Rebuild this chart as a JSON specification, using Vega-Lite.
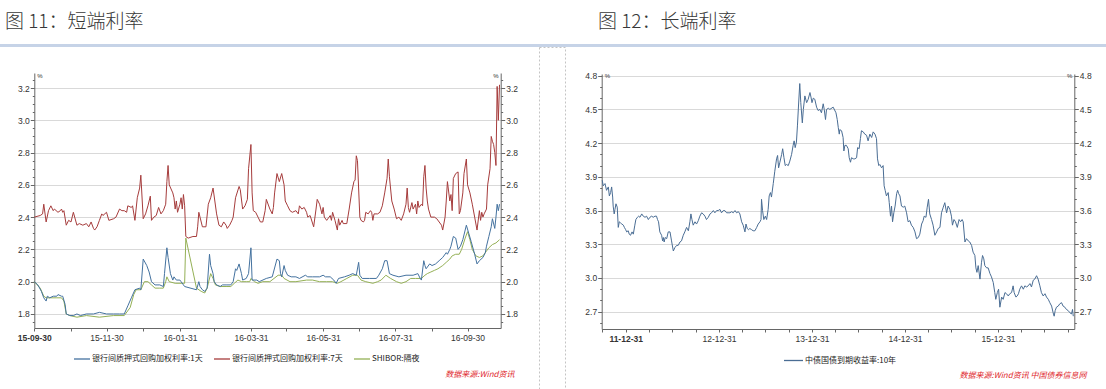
{
  "$schema": "https://vega.github.io/schema/vega-lite/v6.json",
  "padding": {"left": 0, "top": 12, "right": 0, "bottom": 0},
  "background": "white",
  "config": {"view": {"stroke": null}, "font": "Liberation Sans"},
  "datasets": {
    "r7": [
      {"d":"2015-09-30","v":2.40},{"d":"2015-10-05","v":2.41},{"d":"2015-10-07","v":2.42},{"d":"2015-10-08","v":2.48},{"d":"2015-10-10","v":2.37},{"d":"2015-10-12","v":2.44},{"d":"2015-10-14","v":2.47},{"d":"2015-10-16","v":2.44},{"d":"2015-10-17","v":2.45},{"d":"2015-10-20","v":2.43},{"d":"2015-10-22","v":2.44},{"d":"2015-10-23","v":2.45},{"d":"2015-10-24","v":2.43},{"d":"2015-10-25","v":2.44},{"d":"2015-10-27","v":2.35},{"d":"2015-10-29","v":2.38},{"d":"2015-10-31","v":2.37},
      {"d":"2015-11-02","v":2.43},{"d":"2015-11-05","v":2.35},{"d":"2015-11-07","v":2.36},{"d":"2015-11-10","v":2.35},{"d":"2015-11-13","v":2.36},{"d":"2015-11-15","v":2.34},{"d":"2015-11-17","v":2.37},{"d":"2015-11-19","v":2.33},{"d":"2015-11-20","v":2.32},{"d":"2015-11-22","v":2.34},{"d":"2015-11-24","v":2.38},{"d":"2015-11-26","v":2.42},{"d":"2015-11-27","v":2.41},{"d":"2015-11-30","v":2.43},
      {"d":"2015-12-02","v":2.38},{"d":"2015-12-06","v":2.39},{"d":"2015-12-08","v":2.40},{"d":"2015-12-11","v":2.45},{"d":"2015-12-13","v":2.44},{"d":"2015-12-15","v":2.44},{"d":"2015-12-17","v":2.43},{"d":"2015-12-18","v":2.47},{"d":"2015-12-21","v":2.46},{"d":"2015-12-22","v":2.47},{"d":"2015-12-24","v":2.38},{"d":"2015-12-25","v":2.45},{"d":"2015-12-26","v":2.52},{"d":"2015-12-28","v":2.58},{"d":"2015-12-29","v":2.66},{"d":"2015-12-31","v":2.39},
      {"d":"2016-01-02","v":2.42},{"d":"2016-01-04","v":2.47},{"d":"2016-01-06","v":2.53},{"d":"2016-01-07","v":2.38},{"d":"2016-01-09","v":2.40},{"d":"2016-01-11","v":2.41},{"d":"2016-01-13","v":2.46},{"d":"2016-01-15","v":2.42},{"d":"2016-01-17","v":2.44},{"d":"2016-01-19","v":2.48},{"d":"2016-01-20","v":2.62},{"d":"2016-01-21","v":2.72},{"d":"2016-01-22","v":2.60},{"d":"2016-01-25","v":2.55},{"d":"2016-01-26","v":2.52},{"d":"2016-01-27","v":2.45},{"d":"2016-01-28","v":2.50},{"d":"2016-01-29","v":2.43},{"d":"2016-01-31","v":2.48},
      {"d":"2016-02-01","v":2.52},{"d":"2016-02-02","v":2.45},{"d":"2016-02-03","v":2.54},{"d":"2016-02-04","v":2.47},{"d":"2016-02-05","v":2.28},{"d":"2016-02-07","v":2.27},{"d":"2016-02-11","v":2.28},{"d":"2016-02-14","v":2.28},{"d":"2016-02-15","v":2.34},{"d":"2016-02-16","v":2.43},{"d":"2016-02-17","v":2.40},{"d":"2016-02-19","v":2.34},{"d":"2016-02-22","v":2.34},{"d":"2016-02-24","v":2.48},{"d":"2016-02-26","v":2.52},{"d":"2016-02-28","v":2.58},
      {"d":"2016-03-02","v":2.42},{"d":"2016-03-04","v":2.35},{"d":"2016-03-06","v":2.34},{"d":"2016-03-08","v":2.37},{"d":"2016-03-10","v":2.35},{"d":"2016-03-11","v":2.33},{"d":"2016-03-13","v":2.35},{"d":"2016-03-15","v":2.38},{"d":"2016-03-16","v":2.40},{"d":"2016-03-18","v":2.52},{"d":"2016-03-21","v":2.59},{"d":"2016-03-22","v":2.57},{"d":"2016-03-24","v":2.45},{"d":"2016-03-26","v":2.47},{"d":"2016-03-28","v":2.51},{"d":"2016-03-29","v":2.70},{"d":"2016-03-31","v":2.85},
      {"d":"2016-04-01","v":2.55},{"d":"2016-04-02","v":2.44},{"d":"2016-04-04","v":2.43},{"d":"2016-04-06","v":2.40},{"d":"2016-04-08","v":2.37},{"d":"2016-04-10","v":2.37},{"d":"2016-04-12","v":2.44},{"d":"2016-04-13","v":2.51},{"d":"2016-04-16","v":2.45},{"d":"2016-04-18","v":2.42},{"d":"2016-04-19","v":2.46},{"d":"2016-04-20","v":2.55},{"d":"2016-04-22","v":2.67},{"d":"2016-04-24","v":2.62},{"d":"2016-04-26","v":2.67},{"d":"2016-04-28","v":2.60},{"d":"2016-04-29","v":2.50},
      {"d":"2016-05-01","v":2.47},{"d":"2016-05-03","v":2.44},{"d":"2016-05-05","v":2.43},{"d":"2016-05-08","v":2.44},{"d":"2016-05-10","v":2.42},{"d":"2016-05-11","v":2.47},{"d":"2016-05-13","v":2.45},{"d":"2016-05-15","v":2.46},{"d":"2016-05-17","v":2.43},{"d":"2016-05-18","v":2.40},{"d":"2016-05-20","v":2.41},{"d":"2016-05-23","v":2.34},{"d":"2016-05-25","v":2.45},{"d":"2016-05-26","v":2.51},{"d":"2016-05-28","v":2.48},{"d":"2016-05-29","v":2.45},{"d":"2016-05-30","v":2.42},{"d":"2016-05-31","v":2.46},
      {"d":"2016-06-01","v":2.40},{"d":"2016-06-03","v":2.38},{"d":"2016-06-05","v":2.40},{"d":"2016-06-06","v":2.41},{"d":"2016-06-07","v":2.38},{"d":"2016-06-08","v":2.43},{"d":"2016-06-10","v":2.38},{"d":"2016-06-12","v":2.32},{"d":"2016-06-13","v":2.39},{"d":"2016-06-14","v":2.35},{"d":"2016-06-16","v":2.38},{"d":"2016-06-17","v":2.36},{"d":"2016-06-20","v":2.36},{"d":"2016-06-22","v":2.45},{"d":"2016-06-24","v":2.55},{"d":"2016-06-26","v":2.62},{"d":"2016-06-27","v":2.63},{"d":"2016-06-28","v":2.78},{"d":"2016-06-29","v":2.75},
      {"d":"2016-07-01","v":2.40},{"d":"2016-07-02","v":2.38},{"d":"2016-07-04","v":2.37},{"d":"2016-07-05","v":2.38},{"d":"2016-07-06","v":2.43},{"d":"2016-07-08","v":2.42},{"d":"2016-07-10","v":2.44},{"d":"2016-07-11","v":2.43},{"d":"2016-07-12","v":2.38},{"d":"2016-07-13","v":2.42},{"d":"2016-07-16","v":2.42},{"d":"2016-07-18","v":2.43},{"d":"2016-07-20","v":2.47},{"d":"2016-07-22","v":2.55},{"d":"2016-07-24","v":2.64},{"d":"2016-07-25","v":2.76},{"d":"2016-07-26","v":2.65},{"d":"2016-07-28","v":2.50},{"d":"2016-07-30","v":2.45},
      {"d":"2016-08-01","v":2.39},{"d":"2016-08-03","v":2.40},{"d":"2016-08-05","v":2.38},{"d":"2016-08-07","v":2.42},{"d":"2016-08-09","v":2.48},{"d":"2016-08-10","v":2.58},{"d":"2016-08-11","v":2.46},{"d":"2016-08-12","v":2.43},{"d":"2016-08-14","v":2.49},{"d":"2016-08-15","v":2.45},{"d":"2016-08-17","v":2.48},{"d":"2016-08-18","v":2.42},{"d":"2016-08-19","v":2.50},{"d":"2016-08-20","v":2.46},{"d":"2016-08-22","v":2.48},{"d":"2016-08-23","v":2.47},{"d":"2016-08-24","v":2.65},{"d":"2016-08-25","v":2.72},{"d":"2016-08-26","v":2.58},{"d":"2016-08-27","v":2.50},{"d":"2016-08-28","v":2.45},{"d":"2016-08-30","v":2.40},
      {"d":"2016-09-02","v":2.40},{"d":"2016-09-04","v":2.39},{"d":"2016-09-08","v":2.35},{"d":"2016-09-09","v":2.32},{"d":"2016-09-11","v":2.40},{"d":"2016-09-12","v":2.50},{"d":"2016-09-13","v":2.62},{"d":"2016-09-15","v":2.50},{"d":"2016-09-16","v":2.54},{"d":"2016-09-17","v":2.44},{"d":"2016-09-18","v":2.64},{"d":"2016-09-20","v":2.67},{"d":"2016-09-22","v":2.68},{"d":"2016-09-23","v":2.42},{"d":"2016-09-24","v":2.44},{"d":"2016-09-26","v":2.55},{"d":"2016-09-27","v":2.67},{"d":"2016-09-29","v":2.76},{"d":"2016-09-30","v":2.60},
      {"d":"2016-10-02","v":2.55},{"d":"2016-10-04","v":2.48},{"d":"2016-10-06","v":2.40},{"d":"2016-10-08","v":2.32},{"d":"2016-10-10","v":2.44},{"d":"2016-10-11","v":2.38},{"d":"2016-10-12","v":2.43},{"d":"2016-10-13","v":2.40},{"d":"2016-10-14","v":2.42},{"d":"2016-10-16","v":2.45},{"d":"2016-10-17","v":2.60},{"d":"2016-10-19","v":2.70},{"d":"2016-10-20","v":2.90},{"d":"2016-10-21","v":2.87},{"d":"2016-10-22","v":2.85},{"d":"2016-10-23","v":2.80},{"d":"2016-10-24","v":2.72},{"d":"2016-10-25","v":3.21},{"d":"2016-10-26","v":3.00},{"d":"2016-10-27","v":3.22}
    ],
    "r1": [
      {"d":"2015-09-30","v":2.00},{"d":"2015-10-03","v":1.98},{"d":"2015-10-06","v":1.94},{"d":"2015-10-08","v":1.90},{"d":"2015-10-10","v":1.88},{"d":"2015-10-11","v":1.91},{"d":"2015-10-13","v":1.90},{"d":"2015-10-16","v":1.91},{"d":"2015-10-19","v":1.91},{"d":"2015-10-20","v":1.92},{"d":"2015-10-23","v":1.91},{"d":"2015-10-24","v":1.91},{"d":"2015-10-26","v":1.86},{"d":"2015-10-27","v":1.80},{"d":"2015-10-30","v":1.79},
      {"d":"2015-11-02","v":1.79},{"d":"2015-11-05","v":1.80},{"d":"2015-11-08","v":1.79},{"d":"2015-11-13","v":1.80},{"d":"2015-11-19","v":1.80},{"d":"2015-11-24","v":1.81},{"d":"2015-11-30","v":1.80},{"d":"2015-12-06","v":1.80},{"d":"2015-12-11","v":1.80},{"d":"2015-12-15","v":1.80},{"d":"2015-12-18","v":1.85},{"d":"2015-12-21","v":1.90},{"d":"2015-12-24","v":1.95},{"d":"2015-12-28","v":1.96},{"d":"2015-12-29","v":1.95},{"d":"2015-12-31","v":2.14},
      {"d":"2016-01-03","v":2.10},{"d":"2016-01-05","v":2.06},{"d":"2016-01-07","v":2.00},{"d":"2016-01-10","v":1.98},{"d":"2016-01-14","v":1.98},{"d":"2016-01-17","v":1.97},{"d":"2016-01-18","v":2.05},{"d":"2016-01-20","v":2.21},{"d":"2016-01-21","v":2.15},{"d":"2016-01-23","v":2.05},{"d":"2016-01-25","v":2.01},{"d":"2016-01-26","v":2.03},{"d":"2016-01-28","v":2.01},{"d":"2016-01-31","v":2.01},
      {"d":"2016-02-01","v":2.00},{"d":"2016-02-03","v":1.98},{"d":"2016-02-04","v":1.97},{"d":"2016-02-14","v":1.95},{"d":"2016-02-16","v":2.00},{"d":"2016-02-17","v":1.97},{"d":"2016-02-19","v":1.95},{"d":"2016-02-21","v":1.94},{"d":"2016-02-23","v":1.96},{"d":"2016-02-25","v":2.17},{"d":"2016-02-26","v":2.10},{"d":"2016-02-28","v":2.05},{"d":"2016-02-29","v":2.00},
      {"d":"2016-03-02","v":1.98},{"d":"2016-03-05","v":1.97},{"d":"2016-03-07","v":1.98},{"d":"2016-03-10","v":1.98},{"d":"2016-03-14","v":1.98},{"d":"2016-03-16","v":2.00},{"d":"2016-03-18","v":2.08},{"d":"2016-03-19","v":2.07},{"d":"2016-03-21","v":2.11},{"d":"2016-03-23","v":2.05},{"d":"2016-03-24","v":2.01},{"d":"2016-03-27","v":2.02},{"d":"2016-03-29","v":2.05},{"d":"2016-03-31","v":2.21},
      {"d":"2016-04-01","v":2.01},{"d":"2016-04-05","v":2.01},{"d":"2016-04-07","v":2.00},{"d":"2016-04-13","v":2.02},{"d":"2016-04-18","v":2.03},{"d":"2016-04-22","v":2.14},{"d":"2016-04-24","v":2.13},{"d":"2016-04-25","v":2.05},{"d":"2016-04-26","v":2.03},{"d":"2016-04-28","v":2.10},{"d":"2016-04-29","v":2.07},
      {"d":"2016-05-01","v":2.04},{"d":"2016-05-04","v":2.03},{"d":"2016-05-08","v":2.03},{"d":"2016-05-11","v":2.02},{"d":"2016-05-16","v":2.04},{"d":"2016-05-18","v":2.03},{"d":"2016-05-22","v":2.03},{"d":"2016-05-28","v":2.03},{"d":"2016-05-31","v":2.04},
      {"d":"2016-06-02","v":2.03},{"d":"2016-06-06","v":2.03},{"d":"2016-06-09","v":2.01},{"d":"2016-06-11","v":1.99},{"d":"2016-06-13","v":2.02},{"d":"2016-06-18","v":2.03},{"d":"2016-06-22","v":2.04},{"d":"2016-06-25","v":2.05},{"d":"2016-06-28","v":2.04},{"d":"2016-06-30","v":2.12},
      {"d":"2016-07-01","v":2.04},{"d":"2016-07-03","v":2.02},{"d":"2016-07-09","v":2.02},{"d":"2016-07-15","v":2.02},{"d":"2016-07-17","v":2.04},{"d":"2016-07-20","v":2.08},{"d":"2016-07-22","v":2.13},{"d":"2016-07-24","v":2.13},{"d":"2016-07-26","v":2.05},{"d":"2016-07-29","v":2.04},
      {"d":"2016-08-03","v":2.03},{"d":"2016-08-09","v":2.04},{"d":"2016-08-15","v":2.04},{"d":"2016-08-19","v":2.05},{"d":"2016-08-21","v":2.02},{"d":"2016-08-22","v":2.01},{"d":"2016-08-24","v":2.13},{"d":"2016-08-25","v":2.10},{"d":"2016-08-26","v":2.08},{"d":"2016-08-29","v":2.11},{"d":"2016-08-31","v":2.10},
      {"d":"2016-09-03","v":2.11},{"d":"2016-09-06","v":2.13},{"d":"2016-09-09","v":2.15},{"d":"2016-09-12","v":2.18},{"d":"2016-09-13","v":2.17},{"d":"2016-09-15","v":2.20},{"d":"2016-09-16","v":2.22},{"d":"2016-09-18","v":2.28},{"d":"2016-09-20","v":2.27},{"d":"2016-09-22","v":2.20},{"d":"2016-09-24","v":2.22},{"d":"2016-09-26","v":2.26},{"d":"2016-09-28","v":2.32},{"d":"2016-09-29","v":2.35},
      {"d":"2016-10-01","v":2.30},{"d":"2016-10-03","v":2.25},{"d":"2016-10-06","v":2.17},{"d":"2016-10-08","v":2.11},{"d":"2016-10-10","v":2.13},{"d":"2016-10-13","v":2.15},{"d":"2016-10-15","v":2.18},{"d":"2016-10-16","v":2.22},{"d":"2016-10-18","v":2.28},{"d":"2016-10-20","v":2.34},{"d":"2016-10-21","v":2.39},{"d":"2016-10-23","v":2.33},{"d":"2016-10-24","v":2.40},{"d":"2016-10-25","v":2.48},{"d":"2016-10-26","v":2.44},{"d":"2016-10-27","v":2.48}
    ],
    "sh": [
      {"d":"2015-09-30","v":2.00},{"d":"2015-10-05","v":1.96},{"d":"2015-10-08","v":1.91},{"d":"2015-10-10","v":1.90},{"d":"2015-10-19","v":1.90},{"d":"2015-10-23","v":1.90},{"d":"2015-10-25","v":1.88},{"d":"2015-10-27","v":1.80},{"d":"2015-10-30","v":1.79},
      {"d":"2015-11-05","v":1.78},{"d":"2015-11-13","v":1.79},{"d":"2015-11-24","v":1.78},{"d":"2015-12-06","v":1.79},{"d":"2015-12-15","v":1.79},{"d":"2015-12-20","v":1.84},{"d":"2015-12-23","v":1.92},{"d":"2015-12-25","v":1.95},{"d":"2015-12-29","v":1.95},
      {"d":"2016-01-01","v":2.00},{"d":"2016-01-04","v":2.00},{"d":"2016-01-07","v":1.98},{"d":"2016-01-10","v":1.96},{"d":"2016-01-14","v":1.96},{"d":"2016-01-17","v":1.96},{"d":"2016-01-19","v":2.00},{"d":"2016-01-20","v":2.03},{"d":"2016-01-22","v":2.00},{"d":"2016-01-27","v":1.99},
      {"d":"2016-02-01","v":1.99},{"d":"2016-02-04","v":1.99},{"d":"2016-02-05","v":2.27},{"d":"2016-02-14","v":1.96},{"d":"2016-02-18","v":1.94},{"d":"2016-02-21","v":1.93},{"d":"2016-02-23","v":1.96},{"d":"2016-02-26","v":2.05},{"d":"2016-02-28","v":2.02},
      {"d":"2016-03-01","v":1.98},{"d":"2016-03-05","v":1.97},{"d":"2016-03-10","v":1.97},{"d":"2016-03-14","v":1.97},{"d":"2016-03-17","v":1.99},{"d":"2016-03-20","v":2.01},{"d":"2016-03-23","v":2.00},{"d":"2016-03-27","v":2.00},{"d":"2016-03-30","v":2.00},{"d":"2016-03-31","v":2.02},
      {"d":"2016-04-03","v":2.00},{"d":"2016-04-06","v":1.99},{"d":"2016-04-10","v":2.00},{"d":"2016-04-16","v":2.00},{"d":"2016-04-23","v":2.04},{"d":"2016-04-26","v":2.04},{"d":"2016-04-28","v":2.02},
      {"d":"2016-05-03","v":2.00},{"d":"2016-05-08","v":2.00},{"d":"2016-05-17","v":2.01},{"d":"2016-05-22","v":2.01},{"d":"2016-05-28","v":2.00},{"d":"2016-06-03","v":2.00},{"d":"2016-06-08","v":2.00},{"d":"2016-06-12","v":1.99},{"d":"2016-06-15","v":2.00},{"d":"2016-06-20","v":2.02},{"d":"2016-06-25","v":2.04},{"d":"2016-06-29","v":2.04},
      {"d":"2016-07-02","v":2.01},{"d":"2016-07-06","v":2.00},{"d":"2016-07-12","v":1.99},{"d":"2016-07-16","v":2.00},{"d":"2016-07-19","v":2.01},{"d":"2016-07-23","v":2.04},{"d":"2016-07-27","v":2.02},
      {"d":"2016-08-01","v":2.00},{"d":"2016-08-05","v":1.99},{"d":"2016-08-09","v":2.00},{"d":"2016-08-13","v":2.02},{"d":"2016-08-17","v":2.02},{"d":"2016-08-22","v":2.02},{"d":"2016-08-25","v":2.04},{"d":"2016-08-27","v":2.05},{"d":"2016-08-30","v":2.06},
      {"d":"2016-09-02","v":2.07},{"d":"2016-09-05","v":2.08},{"d":"2016-09-09","v":2.10},{"d":"2016-09-12","v":2.12},{"d":"2016-09-15","v":2.14},{"d":"2016-09-17","v":2.16},{"d":"2016-09-20","v":2.17},{"d":"2016-09-23","v":2.17},{"d":"2016-09-25","v":2.20},{"d":"2016-09-28","v":2.27},{"d":"2016-09-30","v":2.31},
      {"d":"2016-10-02","v":2.26},{"d":"2016-10-04","v":2.20},{"d":"2016-10-07","v":2.16},{"d":"2016-10-10","v":2.15},{"d":"2016-10-13","v":2.16},{"d":"2016-10-16","v":2.19},{"d":"2016-10-18","v":2.21},{"d":"2016-10-21","v":2.23},{"d":"2016-10-24","v":2.24},{"d":"2016-10-27","v":2.26}
    ],
    "cgb": [
      {"d":"2011-09-30","v":3.87},{"d":"2011-10-04","v":3.82},{"d":"2011-10-11","v":3.84},{"d":"2011-10-17","v":3.78},{"d":"2011-10-24","v":3.81},{"d":"2011-10-28","v":3.73},{"d":"2011-11-02","v":3.76},{"d":"2011-11-06","v":3.81},{"d":"2011-11-10","v":3.72},{"d":"2011-11-12","v":3.64},{"d":"2011-11-16","v":3.57},{"d":"2011-11-19","v":3.61},{"d":"2011-11-23","v":3.66},{"d":"2011-11-28","v":3.63},{"d":"2011-12-02","v":3.45},{"d":"2011-12-06","v":3.50},{"d":"2011-12-11","v":3.49},{"d":"2011-12-16","v":3.48},{"d":"2011-12-22","v":3.47},{"d":"2011-12-26","v":3.45},{"d":"2011-12-31","v":3.43},
      {"d":"2012-01-04","v":3.41},{"d":"2012-01-10","v":3.42},{"d":"2012-01-14","v":3.39},{"d":"2012-01-19","v":3.38},{"d":"2012-01-25","v":3.41},{"d":"2012-01-30","v":3.39},{"d":"2012-02-05","v":3.47},{"d":"2012-02-09","v":3.52},{"d":"2012-02-15","v":3.54},{"d":"2012-02-20","v":3.55},{"d":"2012-02-25","v":3.54},{"d":"2012-03-03","v":3.57},{"d":"2012-03-09","v":3.55},{"d":"2012-03-16","v":3.54},{"d":"2012-03-22","v":3.55},{"d":"2012-03-29","v":3.52},{"d":"2012-04-04","v":3.54},{"d":"2012-04-11","v":3.55},{"d":"2012-04-17","v":3.54},{"d":"2012-04-24","v":3.55},{"d":"2012-04-30","v":3.55},{"d":"2012-05-04","v":3.52},{"d":"2012-05-08","v":3.50},{"d":"2012-05-13","v":3.41},{"d":"2012-05-20","v":3.38},{"d":"2012-05-24","v":3.33},{"d":"2012-05-27","v":3.36},{"d":"2012-05-30","v":3.32},{"d":"2012-06-03","v":3.36},{"d":"2012-06-09","v":3.35},{"d":"2012-06-15","v":3.41},{"d":"2012-06-22","v":3.41},{"d":"2012-06-28","v":3.33},{"d":"2012-07-05","v":3.24},{"d":"2012-07-11","v":3.27},{"d":"2012-07-18","v":3.29},{"d":"2012-07-24","v":3.29},{"d":"2012-07-31","v":3.32},{"d":"2012-08-06","v":3.33},{"d":"2012-08-13","v":3.38},{"d":"2012-08-19","v":3.41},{"d":"2012-08-26","v":3.45},{"d":"2012-09-02","v":3.42},{"d":"2012-09-08","v":3.50},{"d":"2012-09-12","v":3.57},{"d":"2012-09-16","v":3.52},{"d":"2012-09-21","v":3.47},{"d":"2012-09-28","v":3.50},{"d":"2012-10-04","v":3.48},{"d":"2012-10-11","v":3.51},{"d":"2012-10-17","v":3.55},{"d":"2012-10-24","v":3.58},{"d":"2012-10-30","v":3.57},{"d":"2012-11-06","v":3.55},{"d":"2012-11-12","v":3.52},{"d":"2012-11-19","v":3.54},{"d":"2012-11-26","v":3.57},{"d":"2012-12-02","v":3.58},{"d":"2012-12-09","v":3.60},{"d":"2012-12-15","v":3.58},{"d":"2012-12-22","v":3.60},{"d":"2012-12-28","v":3.60},
      {"d":"2013-01-04","v":3.61},{"d":"2013-01-10","v":3.58},{"d":"2013-01-17","v":3.60},{"d":"2013-01-23","v":3.60},{"d":"2013-01-30","v":3.58},{"d":"2013-02-05","v":3.58},{"d":"2013-02-12","v":3.58},{"d":"2013-02-19","v":3.59},{"d":"2013-02-25","v":3.58},{"d":"2013-03-04","v":3.60},{"d":"2013-03-10","v":3.58},{"d":"2013-03-17","v":3.59},{"d":"2013-03-23","v":3.57},{"d":"2013-03-30","v":3.50},{"d":"2013-04-05","v":3.47},{"d":"2013-04-12","v":3.41},{"d":"2013-04-16","v":3.48},{"d":"2013-04-21","v":3.44},{"d":"2013-04-26","v":3.43},{"d":"2013-05-01","v":3.44},{"d":"2013-05-08","v":3.43},{"d":"2013-05-14","v":3.42},{"d":"2013-05-21","v":3.42},{"d":"2013-05-28","v":3.45},{"d":"2013-06-03","v":3.48},{"d":"2013-06-10","v":3.50},{"d":"2013-06-14","v":3.52},{"d":"2013-06-16","v":3.70},{"d":"2013-06-20","v":3.60},{"d":"2013-06-25","v":3.52},{"d":"2013-07-01","v":3.55},{"d":"2013-07-06","v":3.52},{"d":"2013-07-12","v":3.61},{"d":"2013-07-16","v":3.73},{"d":"2013-07-21","v":3.76},{"d":"2013-07-25","v":3.72},{"d":"2013-08-01","v":3.84},{"d":"2013-08-07","v":3.95},{"d":"2013-08-14","v":4.06},{"d":"2013-08-18","v":4.09},{"d":"2013-08-22","v":3.98},{"d":"2013-08-27","v":4.03},{"d":"2013-09-03","v":4.10},{"d":"2013-09-07","v":4.15},{"d":"2013-09-12","v":4.07},{"d":"2013-09-17","v":4.00},{"d":"2013-09-22","v":4.01},{"d":"2013-09-29","v":4.00},{"d":"2013-10-05","v":4.04},{"d":"2013-10-12","v":4.10},{"d":"2013-10-18","v":4.18},{"d":"2013-10-22","v":4.22},{"d":"2013-10-26","v":4.16},{"d":"2013-10-31","v":4.21},{"d":"2013-11-04","v":4.36},{"d":"2013-11-08","v":4.53},{"d":"2013-11-13","v":4.73},{"d":"2013-11-17","v":4.56},{"d":"2013-11-23","v":4.38},{"d":"2013-11-27","v":4.50},{"d":"2013-12-03","v":4.62},{"d":"2013-12-10","v":4.56},{"d":"2013-12-16","v":4.59},{"d":"2013-12-23","v":4.65},{"d":"2013-12-27","v":4.61},{"d":"2013-12-31","v":4.56},
      {"d":"2014-01-05","v":4.60},{"d":"2014-01-11","v":4.59},{"d":"2014-01-18","v":4.52},{"d":"2014-01-24","v":4.49},{"d":"2014-01-31","v":4.50},{"d":"2014-02-06","v":4.47},{"d":"2014-02-13","v":4.55},{"d":"2014-02-17","v":4.50},{"d":"2014-02-22","v":4.41},{"d":"2014-02-26","v":4.50},{"d":"2014-03-05","v":4.51},{"d":"2014-03-11","v":4.50},{"d":"2014-03-24","v":4.52},{"d":"2014-04-04","v":4.47},{"d":"2014-04-09","v":4.41},{"d":"2014-04-13","v":4.34},{"d":"2014-04-17","v":4.28},{"d":"2014-04-19","v":4.32},{"d":"2014-04-26","v":4.31},{"d":"2014-05-02","v":4.25},{"d":"2014-05-05","v":4.13},{"d":"2014-05-09","v":4.18},{"d":"2014-05-15","v":4.18},{"d":"2014-05-22","v":4.15},{"d":"2014-05-26","v":4.07},{"d":"2014-05-31","v":4.03},{"d":"2014-06-04","v":4.07},{"d":"2014-06-11","v":4.06},{"d":"2014-06-17","v":4.06},{"d":"2014-06-24","v":4.07},{"d":"2014-06-28","v":4.16},{"d":"2014-07-04","v":4.15},{"d":"2014-07-09","v":4.24},{"d":"2014-07-13","v":4.31},{"d":"2014-07-20","v":4.30},{"d":"2014-07-26","v":4.28},{"d":"2014-08-02","v":4.27},{"d":"2014-08-08","v":4.22},{"d":"2014-08-15","v":4.28},{"d":"2014-08-22","v":4.25},{"d":"2014-08-28","v":4.30},{"d":"2014-09-04","v":4.28},{"d":"2014-09-10","v":4.24},{"d":"2014-09-14","v":4.06},{"d":"2014-09-19","v":4.00},{"d":"2014-09-23","v":4.01},{"d":"2014-09-30","v":3.98},{"d":"2014-10-06","v":4.00},{"d":"2014-10-10","v":3.82},{"d":"2014-10-14","v":3.78},{"d":"2014-10-19","v":3.73},{"d":"2014-10-26","v":3.76},{"d":"2014-10-30","v":3.67},{"d":"2014-11-04","v":3.55},{"d":"2014-11-08","v":3.64},{"d":"2014-11-12","v":3.50},{"d":"2014-11-17","v":3.58},{"d":"2014-11-22","v":3.64},{"d":"2014-11-28","v":3.75},{"d":"2014-12-02","v":3.78},{"d":"2014-12-06","v":3.75},{"d":"2014-12-11","v":3.73},{"d":"2014-12-17","v":3.64},{"d":"2014-12-24","v":3.63},{"d":"2014-12-30","v":3.64},
      {"d":"2015-01-06","v":3.58},{"d":"2015-01-12","v":3.50},{"d":"2015-01-19","v":3.51},{"d":"2015-01-25","v":3.47},{"d":"2015-02-01","v":3.45},{"d":"2015-02-08","v":3.41},{"d":"2015-02-14","v":3.35},{"d":"2015-02-21","v":3.36},{"d":"2015-02-27","v":3.39},{"d":"2015-03-06","v":3.48},{"d":"2015-03-12","v":3.51},{"d":"2015-03-16","v":3.55},{"d":"2015-03-23","v":3.54},{"d":"2015-03-28","v":3.63},{"d":"2015-04-02","v":3.70},{"d":"2015-04-07","v":3.57},{"d":"2015-04-14","v":3.52},{"d":"2015-04-20","v":3.47},{"d":"2015-04-27","v":3.38},{"d":"2015-05-04","v":3.41},{"d":"2015-05-10","v":3.44},{"d":"2015-05-17","v":3.45},{"d":"2015-05-23","v":3.58},{"d":"2015-05-30","v":3.63},{"d":"2015-06-05","v":3.67},{"d":"2015-06-12","v":3.58},{"d":"2015-06-18","v":3.64},{"d":"2015-06-25","v":3.61},{"d":"2015-07-01","v":3.55},{"d":"2015-07-05","v":3.47},{"d":"2015-07-11","v":3.52},{"d":"2015-07-17","v":3.50},{"d":"2015-07-24","v":3.45},{"d":"2015-07-31","v":3.52},{"d":"2015-08-06","v":3.50},{"d":"2015-08-12","v":3.52},{"d":"2015-08-16","v":3.50},{"d":"2015-08-23","v":3.32},{"d":"2015-08-29","v":3.35},{"d":"2015-09-05","v":3.33},{"d":"2015-09-11","v":3.32},{"d":"2015-09-18","v":3.29},{"d":"2015-09-24","v":3.23},{"d":"2015-10-01","v":3.20},{"d":"2015-10-05","v":3.09},{"d":"2015-10-09","v":3.05},{"d":"2015-10-14","v":3.11},{"d":"2015-10-21","v":2.99},{"d":"2015-10-27","v":3.14},{"d":"2015-10-31","v":3.20},{"d":"2015-11-05","v":3.17},{"d":"2015-11-09","v":3.11},{"d":"2015-11-16","v":3.09},{"d":"2015-11-22","v":3.09},{"d":"2015-11-29","v":3.04},{"d":"2015-12-05","v":3.01},{"d":"2015-12-12","v":2.96},{"d":"2015-12-18","v":2.87},{"d":"2015-12-22","v":2.81},{"d":"2015-12-28","v":2.87},
      {"d":"2016-01-02","v":2.90},{"d":"2016-01-07","v":2.74},{"d":"2016-01-14","v":2.83},{"d":"2016-01-20","v":2.81},{"d":"2016-01-27","v":2.87},{"d":"2016-02-02","v":2.86},{"d":"2016-02-09","v":2.84},{"d":"2016-02-15","v":2.86},{"d":"2016-02-22","v":2.87},{"d":"2016-02-28","v":2.93},{"d":"2016-03-03","v":2.87},{"d":"2016-03-10","v":2.83},{"d":"2016-03-15","v":2.84},{"d":"2016-03-20","v":2.86},{"d":"2016-03-25","v":2.90},{"d":"2016-04-01","v":2.93},{"d":"2016-04-08","v":2.90},{"d":"2016-04-14","v":2.93},{"d":"2016-04-21","v":2.92},{"d":"2016-04-27","v":2.93},{"d":"2016-05-04","v":2.95},{"d":"2016-05-10","v":2.92},{"d":"2016-05-17","v":2.98},{"d":"2016-05-23","v":2.99},{"d":"2016-05-30","v":3.02},{"d":"2016-06-05","v":2.99},{"d":"2016-06-12","v":2.93},{"d":"2016-06-18","v":2.87},{"d":"2016-06-25","v":2.84},{"d":"2016-07-02","v":2.86},{"d":"2016-07-08","v":2.83},{"d":"2016-07-15","v":2.81},{"d":"2016-07-21","v":2.78},{"d":"2016-07-28","v":2.75},{"d":"2016-08-03","v":2.69},{"d":"2016-08-07","v":2.66},{"d":"2016-08-11","v":2.71},{"d":"2016-08-16","v":2.74},{"d":"2016-08-23","v":2.75},{"d":"2016-08-29","v":2.77},{"d":"2016-09-05","v":2.78},{"d":"2016-09-11","v":2.75},{"d":"2016-09-18","v":2.74},{"d":"2016-09-24","v":2.72},{"d":"2016-10-01","v":2.71},{"d":"2016-10-08","v":2.69},{"d":"2016-10-14","v":2.68},{"d":"2016-10-18","v":2.72},{"d":"2016-10-21","v":2.66}
    ]
  },
  "columns": 3,
  "spacing": 0,
  "align": "each",
  "bounds": "flush",
  "resolve": {"scale": {"x": "independent", "y": "independent", "color": "independent"}, "legend": {"color": "independent"}},
  "concat": [
    {
      "width": 539, "height": 3,
      "view": {"fill": "#c6d3e7", "stroke": null},
      "title": {"text": "图 11：短端利率", "anchor": "start", "frame": "group", "dx": 5, "offset": -4, "baseline": "alphabetic", "font": "Noto Sans CJK SC", "fontSize": 19, "fontWeight": 300, "color": "#383838"},
      "data": {"values": [{}]},
      "mark": {"type": "point", "opacity": 0},
      "encoding": {}
    },
    {
      "width": 26, "height": 3,
      "view": {"fill": "#c6d3e7", "stroke": null},
      "data": {"values": [{}]},
      "mark": {"type": "point", "opacity": 0},
      "encoding": {}
    },
    {
      "width": 541, "height": 3,
      "view": {"fill": "#c6d3e7", "stroke": null},
      "title": {"text": "图 12：长端利率", "anchor": "start", "frame": "group", "dx": 33, "offset": -4, "baseline": "alphabetic", "font": "Noto Sans CJK SC", "fontSize": 19, "fontWeight": 300, "color": "#383838"},
      "data": {"values": [{}]},
      "mark": {"type": "point", "opacity": 0},
      "encoding": {}
    },
    {
      "width": 539, "height": 281,
      "resolve": {"axis": {"y": "independent"}, "scale": {"y": "shared"}},
      "layer": [
        {
          "data": {"name": "sh"},
          "mark": {"type": "line", "strokeWidth": 1},
          "encoding": {
            "x": {"field": "d", "type": "temporal",
              "scale": {"type": "utc", "domain": [{"year": 2015, "month": 9, "date": 30, "utc": true}, {"year": 2016, "month": 10, "date": 28, "utc": true}], "range": [34.3, 500.7], "nice": false},
              "axis": {
                "orient": "bottom",
                "values": [{"year":2015,"month":9,"date":30,"utc":true},{"year":2015,"month":10,"date":31,"utc":true},{"year":2015,"month":11,"date":30,"utc":true},{"year":2015,"month":12,"date":31,"utc":true},{"year":2016,"month":1,"date":31,"utc":true},{"year":2016,"month":2,"date":29,"utc":true},{"year":2016,"month":3,"date":31,"utc":true},{"year":2016,"month":4,"date":30,"utc":true},{"year":2016,"month":5,"date":31,"utc":true},{"year":2016,"month":6,"date":30,"utc":true},{"year":2016,"month":7,"date":31,"utc":true},{"year":2016,"month":8,"date":31,"utc":true},{"year":2016,"month":9,"date":30,"utc":true}],
                "labelExpr": "utcmonth(datum.value) % 2 == 0 ? utcFormat(datum.value, '%y-%m-%d') : ''",
                "labelFont": "Liberation Sans", "labelFontSize": 8.5, "labelColor": "#333333",
                "labelFontWeight": {"condition": {"test": "utcyear(datum.value) == 2015 && utcmonth(datum.value) == 8", "value": "bold"}, "value": "normal"},
                "labelFlush": false, "labelOverlap": false, "labelPadding": 2,
                "tickSize": 3,
                "tickColor": "#666666", "domainColor": "#666666", "grid": false,
                "title": "数据来源:Wind资讯", "titleX": 514, "titleY": 48, "titleAlign": "right", "titleBaseline": "alphabetic",
                "titleFont": "Noto Sans CJK SC", "titleFontSize": 8, "titleFontStyle": "italic", "titleFontWeight": "normal", "titleColor": "#e0282d"
              }
            },
            "y": {"field": "v", "type": "quantitative",
              "scale": {"domain": [1.713, 3.293], "range": [281, 26], "zero": false, "nice": false},
              "axis": {
                "orient": "left", "offset": -34.3,
                "values": [1.75,1.8,1.85,1.9,1.95,2.0,2.05,2.1,2.15,2.2,2.25,2.3,2.35,2.4,2.45,2.5,2.55,2.6,2.65,2.7,2.75,2.8,2.85,2.9,2.95,3.0,3.05,3.1,3.15,3.2,3.25],
                "labelExpr": "round(datum.value*100) % 20 == 0 ? format(datum.value, '.1f') : ''",
                "labelFont": "Liberation Sans", "labelFontSize": 8.5, "labelColor": "#333333", "labelPadding": 1,
                "tickSize": {"condition": {"test": "round(datum.value*100) % 20 == 0", "value": 4}, "value": 2},
                "tickColor": "#666666", "domainColor": "#666666",
                "grid": true, "gridColor": "#d9d9d9",
                "gridOpacity": {"condition": {"test": "round(datum.value*100) % 20 == 0", "value": 1}, "value": 0},
                "title": "%", "titleAngle": 0, "titleX": 2.5, "titleY": 28, "titleAlign": "left", "titleBaseline": "middle",
                "titleFont": "Liberation Sans", "titleFontSize": 6, "titleFontWeight": "normal", "titleColor": "#333333"
              }
            },
            "color": {"datum": "SHIBOR:隔夜", "type": "nominal",
              "scale": {"domain": ["银行间质押式回购加权利率:1天", "银行间质押式回购加权利率:7天", "SHIBOR:隔夜"], "range": ["#44729f", "#a63c3c", "#94b055"]},
              "legend": {"orient": "none", "legendX": 73, "legendY": 303, "direction": "horizontal", "title": null, "padding": 0,
                "symbolType": "stroke", "symbolSize": 256, "symbolStrokeWidth": 1.3, "labelOffset": 1, "columnPadding": 8,
                "labelFont": "Noto Sans CJK SC", "labelFontSize": 8, "labelColor": "#222222"}
            }
          }
        },
        {
          "data": {"name": "r1"},
          "mark": {"type": "line", "strokeWidth": 1},
          "encoding": {
            "x": {"field": "d", "type": "temporal"},
            "y": {"field": "v", "type": "quantitative",
              "axis": {
                "orient": "right", "offset": -38.3,
                "values": [1.75,1.8,1.85,1.9,1.95,2.0,2.05,2.1,2.15,2.2,2.25,2.3,2.35,2.4,2.45,2.5,2.55,2.6,2.65,2.7,2.75,2.8,2.85,2.9,2.95,3.0,3.05,3.1,3.15,3.2,3.25],
                "labelExpr": "round(datum.value*100) % 20 == 0 ? format(datum.value, '.1f') : ''",
                "labelFont": "Liberation Sans", "labelFontSize": 8.5, "labelColor": "#333333", "labelPadding": 1,
                "tickSize": {"condition": {"test": "round(datum.value*100) % 20 == 0", "value": 4}, "value": 2},
                "tickColor": "#666666", "domainColor": "#666666", "grid": false,
                "title": "%", "titleAngle": 0, "titleX": -2.5, "titleY": 28, "titleAlign": "right", "titleBaseline": "middle",
                "titleFont": "Liberation Sans", "titleFontSize": 6, "titleFontWeight": "normal", "titleColor": "#333333"
              }
            },
            "color": {"datum": "银行间质押式回购加权利率:1天", "type": "nominal"}
          }
        },
        {
          "data": {"name": "r7"},
          "mark": {"type": "line", "strokeWidth": 1},
          "encoding": {
            "x": {"field": "d", "type": "temporal"},
            "y": {"field": "v", "type": "quantitative", "axis": null},
            "color": {"datum": "银行间质押式回购加权利率:7天", "type": "nominal"}
          }
        }
      ]
    },
    {
      "width": 26, "height": 345,
      "view": {"stroke": "#c4c4c4", "strokeDash": [2, 2], "strokeWidth": 1, "fill": null},
      "data": {"values": [{}]},
      "mark": {"type": "point", "opacity": 0},
      "encoding": {}
    },
    {
      "width": 541, "height": 282,
      "resolve": {"axis": {"y": "independent"}, "scale": {"y": "shared"}},
      "layer": [
        {
          "data": {"name": "cgb"},
          "mark": {"type": "line", "strokeWidth": 1},
          "encoding": {
            "x": {"field": "d", "type": "temporal",
              "scale": {"type": "utc", "domain": [{"year": 2011, "month": 9, "date": 28, "utc": true}, {"year": 2016, "month": 10, "date": 25, "utc": true}], "range": [36.7, 509.3], "nice": false},
              "axis": {
                "orient": "bottom",
                "values": [{"year":2011,"month":9,"date":30,"utc":true},{"year":2011,"month":12,"date":31,"utc":true},{"year":2012,"month":3,"date":31,"utc":true},{"year":2012,"month":6,"date":30,"utc":true},{"year":2012,"month":9,"date":30,"utc":true},{"year":2012,"month":12,"date":31,"utc":true},{"year":2013,"month":3,"date":31,"utc":true},{"year":2013,"month":6,"date":30,"utc":true},{"year":2013,"month":9,"date":30,"utc":true},{"year":2013,"month":12,"date":31,"utc":true},{"year":2014,"month":3,"date":31,"utc":true},{"year":2014,"month":6,"date":30,"utc":true},{"year":2014,"month":9,"date":30,"utc":true},{"year":2014,"month":12,"date":31,"utc":true},{"year":2015,"month":3,"date":31,"utc":true},{"year":2015,"month":6,"date":30,"utc":true},{"year":2015,"month":9,"date":30,"utc":true},{"year":2015,"month":12,"date":31,"utc":true},{"year":2016,"month":3,"date":31,"utc":true},{"year":2016,"month":6,"date":30,"utc":true},{"year":2016,"month":9,"date":30,"utc":true}],
                "labelExpr": "utcmonth(datum.value) == 11 ? utcFormat(datum.value, '%y-%m-%d') : ''",
                "labelFont": "Liberation Sans", "labelFontSize": 8.5, "labelColor": "#333333",
                "labelFontWeight": {"condition": {"test": "utcyear(datum.value) == 2011 && utcmonth(datum.value) == 11", "value": "bold"}, "value": "normal"},
                "labelFlush": false, "labelOverlap": false, "labelPadding": 2,
                "tickSize": 3,
                "tickColor": "#666666", "domainColor": "#666666", "grid": false,
                "title": "数据来源:Wind资讯 中国债券信息网", "titleX": 521, "titleY": 48, "titleAlign": "right", "titleBaseline": "alphabetic",
                "titleFont": "Noto Sans CJK SC", "titleFontSize": 8, "titleFontStyle": "italic", "titleFontWeight": "normal", "titleColor": "#e0282d"
              }
            },
            "y": {"field": "v", "type": "quantitative",
              "scale": {"domain": [2.546, 4.815], "range": [282, 27], "zero": false, "nice": false},
              "axis": {
                "orient": "left", "offset": -36.7,
                "values": [2.6,2.7,2.8,2.9,3.0,3.1,3.2,3.3,3.4,3.5,3.6,3.7,3.8,3.9,4.0,4.1,4.2,4.3,4.4,4.5,4.6,4.7,4.8],
                "labelExpr": "round(datum.value*10) % 3 == 0 ? format(datum.value, '.1f') : ''",
                "labelFont": "Liberation Sans", "labelFontSize": 8.5, "labelColor": "#333333", "labelPadding": 1,
                "tickSize": {"condition": {"test": "round(datum.value*10) % 3 == 0", "value": 4}, "value": 2},
                "tickColor": "#666666", "domainColor": "#666666",
                "grid": true, "gridColor": "#d9d9d9",
                "gridOpacity": {"condition": {"test": "round(datum.value*10) % 3 == 0", "value": 1}, "value": 0},
                "title": "%", "titleAngle": 0, "titleX": 2.5, "titleY": 28, "titleAlign": "left", "titleBaseline": "middle",
                "titleFont": "Liberation Sans", "titleFontSize": 6, "titleFontWeight": "normal", "titleColor": "#333333"
              }
            },
            "color": {"datum": "中债国债到期收益率:10年", "type": "nominal",
              "scale": {"domain": ["中债国债到期收益率:10年"], "range": ["#4a6d94"]},
              "legend": {"orient": "none", "legendX": 218, "legendY": 303, "direction": "horizontal", "title": null, "padding": 0,
                "symbolType": "stroke", "symbolSize": 360, "symbolStrokeWidth": 1.3, "labelOffset": 1,
                "labelFont": "Noto Sans CJK SC", "labelFontSize": 8, "labelColor": "#222222"}
            }
          }
        },
        {
          "data": {"values": [{"v": 3.0}]},
          "mark": {"type": "rule", "opacity": 0},
          "encoding": {
            "y": {"field": "v", "type": "quantitative",
              "axis": {
                "orient": "right", "offset": -31.7,
                "values": [2.6,2.7,2.8,2.9,3.0,3.1,3.2,3.3,3.4,3.5,3.6,3.7,3.8,3.9,4.0,4.1,4.2,4.3,4.4,4.5,4.6,4.7,4.8],
                "labelExpr": "round(datum.value*10) % 3 == 0 ? format(datum.value, '.1f') : ''",
                "labelFont": "Liberation Sans", "labelFontSize": 8.5, "labelColor": "#333333", "labelPadding": 1,
                "tickSize": {"condition": {"test": "round(datum.value*10) % 3 == 0", "value": 4}, "value": 2},
                "tickColor": "#666666", "domainColor": "#666666", "grid": false,
                "title": "%", "titleAngle": 0, "titleX": -2.5, "titleY": 28, "titleAlign": "right", "titleBaseline": "middle",
                "titleFont": "Liberation Sans", "titleFontSize": 6, "titleFontWeight": "normal", "titleColor": "#333333"
              }
            }
          }
        }
      ]
    }
  ]
}
